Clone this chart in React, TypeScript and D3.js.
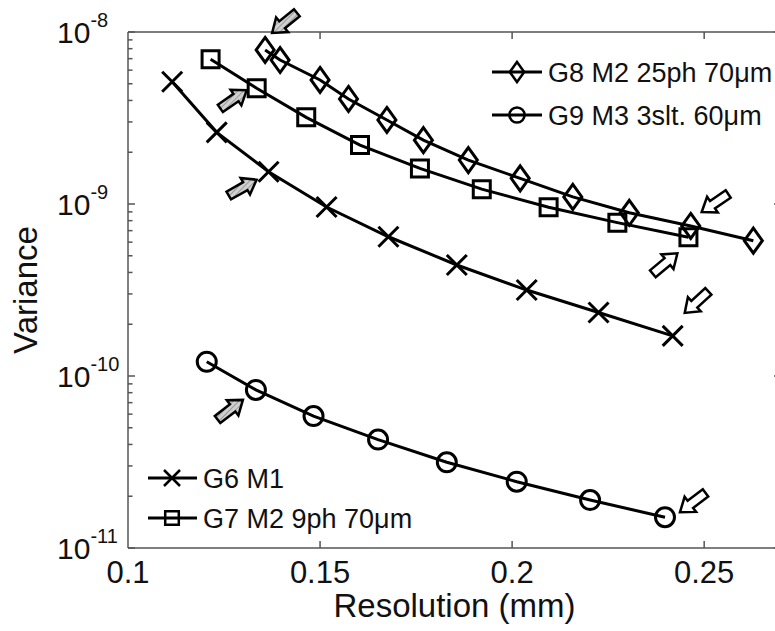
import React from "react";
import * as d3 from "d3";

// ---- Data ----
const resG6 = [0.1115, 0.1231, 0.1366, 0.1517, 0.1678, 0.1856, 0.2038, 0.2225, 0.2418];
const varG6 = [5.14e-9, 2.61e-9, 1.54e-9, 9.6e-10, 6.45e-10, 4.42e-10, 3.16e-10, 2.34e-10, 1.71e-10];
const resG7 = [0.1215, 0.1335, 0.1464, 0.1604, 0.176, 0.1921, 0.2095, 0.2274, 0.2459];
const varG7 = [6.94e-9, 4.71e-9, 3.19e-9, 2.2e-9, 1.61e-9, 1.22e-9, 9.57e-10, 7.79e-10, 6.4e-10];
const resG8 = [0.1357, 0.1396, 0.15, 0.1574, 0.1674, 0.1769, 0.1886, 0.2021, 0.2158, 0.2305, 0.2465, 0.2628];
const varG8 = [7.86e-9, 6.87e-9, 5.26e-9, 4.08e-9, 3.08e-9, 2.35e-9, 1.8e-9, 1.41e-9, 1.1e-9, 8.89e-10, 7.45e-10, 6.12e-10];
const resG9 = [0.1205, 0.1333, 0.1483, 0.1651, 0.183, 0.2012, 0.2203, 0.2398];
const varG9 = [1.21e-10, 8.3e-11, 5.85e-11, 4.27e-11, 3.15e-11, 2.43e-11, 1.9e-11, 1.51e-11];

const seriesNames = ["G6 M1", "G7 M2 9ph 70\u03bcm", "G8 M2 25ph 70\u03bcm", "G9 M3 3slt. 60\u03bcm"];
const seriesMarkers = ["x", "square", "diamond", "circle"];

const xTicks = [0.1, 0.15, 0.2, 0.25];
const xTickLabels = ["0.1", "0.15", "0.2", "0.25"];
const yExponents = [-8, -9, -10, -11];

// annotation arrows: [series index, point index, kind]
const arrowSeries = [2, 1, 0, 3, 2, 1, 0, 3];
const arrowPoint = [0, 1, 2, 1, 10, 8, 8, 7];
const arrowKind = ["gray", "gray", "gray", "gray", "hollow", "hollow", "hollow", "hollow"];

// ---- Layout ----
const W = 775;
const H = 631;
const X0 = 128;
const X1 = 781;
const Y0 = 32;
const Y1 = 548;
const FONT = "'Liberation Sans', Arial, Helvetica, sans-serif";

const x = d3.scaleLinear().domain([0.1, 0.27]).range([X0, X1]);
const y = d3.scaleLog().domain([1e-11, 1e-8]).range([Y1, Y0]);

const allRes = [resG6, resG7, resG8, resG9];
const allVar = [varG6, varG7, varG8, varG9];

// arrow placement relative to target point: tip offset & direction (styling)
const arrowTipOffset: [number, number][] = [
  [7, -17], [-10, 2], [-12, 8], [-13, 10],
  [11, -14], [-11, 16], [12, -23], [15, -5],
];
const arrowDir: [number, number][] = [
  [-28, 23], [29, -20], [30, -17], [26, -20],
  [-25, 17], [24, -20], [-22, 20], [-25, 19],
];

function markerPath(kind: string, s: number): string {
  if (kind === "x") {
    const a = 10 * s;
    return `M${-a},${-a}L${a},${a}M${-a},${a}L${a},${-a}`;
  }
  if (kind === "square") {
    const a = 8.5 * s;
    return `M${-a},${-a}H${a}V${a}H${-a}Z`;
  }
  if (kind === "diamond") {
    const w = 9 * s;
    const h = 12.5 * s;
    return `M0,${-h}L${w},0L0,${h}L${-w},0Z`;
  }
  const r = 9.5 * s;
  return `M${r},0A${r},${r} 0 1,1 ${-r},0A${r},${r} 0 1,1 ${r},0Z`;
}

function arrowPolygon(tx: number, ty: number, dx: number, dy: number): string {
  const len = Math.hypot(dx, dy);
  const ux = dx / len;
  const uy = dy / len;
  const nx = -uy;
  const ny = ux;
  const L = 32;
  const hl = 13;
  const hw = 9.5;
  const sw = 4.5;
  const bx = tx - ux * hl;
  const by = ty - uy * hl;
  const ex = tx - ux * L;
  const ey = ty - uy * L;
  const pts = [
    [tx, ty],
    [bx + nx * hw, by + ny * hw],
    [bx + nx * sw, by + ny * sw],
    [ex + nx * sw, ey + ny * sw],
    [ex - nx * sw, ey - ny * sw],
    [bx - nx * sw, by - ny * sw],
    [bx - nx * hw, by - ny * hw],
  ];
  return pts.map((p) => `${p[0].toFixed(1)},${p[1].toFixed(1)}`).join(" ");
}

export default function App() {
  const line = d3
    .line<[number, number]>()
    .x((d) => x(d[0]))
    .y((d) => y(d[1]));

  const minorTicks: number[] = [];
  for (let e = -11; e < -8; e++) {
    for (let m = 2; m <= 9; m++) minorTicks.push(m * Math.pow(10, e));
  }

  const axisColor = "#555";

  const legendTop = [2, 3];
  const legendBottom = [0, 1];

  return (
    <svg
      width={W}
      height={H}
      style={{ position: "absolute", left: 0, top: 0, background: "#fff" }}
      fontFamily={FONT}
    >
      <rect x={0} y={0} width={W} height={H} fill="#fff" />
      <defs>
        <pattern id="hatch" width="4" height="4" patternUnits="userSpaceOnUse" patternTransform="rotate(45)">
          <rect width="4" height="4" fill="#d0d0d0" />
          <line x1="0" y1="0" x2="0" y2="4" stroke="#888" strokeWidth="1.5" />
        </pattern>
      </defs>

      {/* axes frame */}
      <g stroke={axisColor} strokeWidth={1.5} fill="none">
        <line x1={X0} y1={Y0} x2={X1} y2={Y0} />
        <line x1={X0} y1={Y1} x2={X1} y2={Y1} />
        <line x1={X0} y1={Y0} x2={X0} y2={Y1} />
        <line x1={X1} y1={Y0} x2={X1} y2={Y1} />
        {xTicks.slice(1).map((t) => (
          <g key={"xt" + t}>
            <line x1={x(t)} y1={Y1} x2={x(t)} y2={Y1 - 7} />
            <line x1={x(t)} y1={Y0} x2={x(t)} y2={Y0 + 7} />
          </g>
        ))}
        {yExponents.map((e) => (
          <g key={"yt" + e}>
            <line x1={X0} y1={y(Math.pow(10, e))} x2={X0 + 7} y2={y(Math.pow(10, e))} />
            <line x1={X1} y1={y(Math.pow(10, e))} x2={X1 - 7} y2={y(Math.pow(10, e))} />
          </g>
        ))}
        {minorTicks.map((t, i) => (
          <g key={"ym" + i}>
            <line x1={X0} y1={y(t)} x2={X0 + 4.5} y2={y(t)} />
            <line x1={X1} y1={y(t)} x2={X1 - 4.5} y2={y(t)} />
          </g>
        ))}
      </g>

      {/* x tick labels */}
      {xTicks.map((t, i) => (
        <text key={"xl" + t} x={x(t)} y={Y1 + 35} textAnchor="middle" fontSize={31} fill="#111">
          {xTickLabels[i]}
        </text>
      ))}
      {/* y tick labels */}
      {yExponents.map((e) => (
        <text key={"yl" + e} x={57} y={y(Math.pow(10, e)) + 11} fontSize={30} fill="#111">
          10
          <tspan fontSize={20} dy={-16.5}>
            {String(e)}
          </tspan>
        </text>
      ))}

      {/* axis titles */}
      <text x={(X0 + X1) / 2} y={617} textAnchor="middle" fontSize={33} fill="#111">
        Resolution (mm)
      </text>
      <text
        transform={`translate(37,${(Y0 + Y1) / 2}) rotate(-90)`}
        textAnchor="middle"
        fontSize={33}
        fill="#111"
      >
        Variance
      </text>

      {/* series */}
      {allRes.map((res, si) => {
        const pts = res.map((r, i) => [r, allVar[si][i]] as [number, number]);
        return (
          <g key={"s" + si}>
            <path d={line(pts) || ""} fill="none" stroke="#000" strokeWidth={3} />
            {pts.map((p, i) => (
              <path
                key={i}
                d={markerPath(seriesMarkers[si], 1)}
                transform={`translate(${x(p[0])},${y(p[1])})`}
                fill="none"
                stroke="#000"
                strokeWidth={3}
              />
            ))}
          </g>
        );
      })}

      {/* arrows */}
      {arrowSeries.map((si, k) => {
        const pi = arrowPoint[k];
        const px = x(allRes[si][pi]);
        const py = y(allVar[si][pi]);
        const tx = px + arrowTipOffset[k][0];
        const ty = py + arrowTipOffset[k][1];
        return (
          <polygon
            key={"a" + k}
            points={arrowPolygon(tx, ty, arrowDir[k][0], arrowDir[k][1])}
            fill={arrowKind[k] === "gray" ? "url(#hatch)" : "#fff"}
            stroke="#000"
            strokeWidth={2.5}
            strokeLinejoin="miter"
          />
        );
      })}

      {/* legend top-right */}
      {legendTop.map((si, j) => {
        const ly = 72 + j * 43;
        return (
          <g key={"lt" + si}>
            <line x1={492} y1={ly} x2={542} y2={ly} stroke="#000" strokeWidth={3} />
            <path
              d={markerPath(seriesMarkers[si], 0.8)}
              transform={`translate(517,${ly})`}
              fill="none"
              stroke="#000"
              strokeWidth={2.5}
            />
            <text x={548} y={ly} dy="0.36em" fontSize={27} fill="#111">
              {seriesNames[si]}
            </text>
          </g>
        );
      })}

      {/* legend bottom-left */}
      {legendBottom.map((si, j) => {
        const ly = 478 + j * 40;
        return (
          <g key={"lb" + si}>
            <line x1={148} y1={ly} x2={197} y2={ly} stroke="#000" strokeWidth={3} />
            <path
              d={markerPath(seriesMarkers[si], 0.8)}
              transform={`translate(172,${ly})`}
              fill="none"
              stroke="#000"
              strokeWidth={2.5}
            />
            <text x={203} y={ly} dy="0.36em" fontSize={27} fill="#111">
              {seriesNames[si]}
            </text>
          </g>
        );
      })}
    </svg>
  );
}
